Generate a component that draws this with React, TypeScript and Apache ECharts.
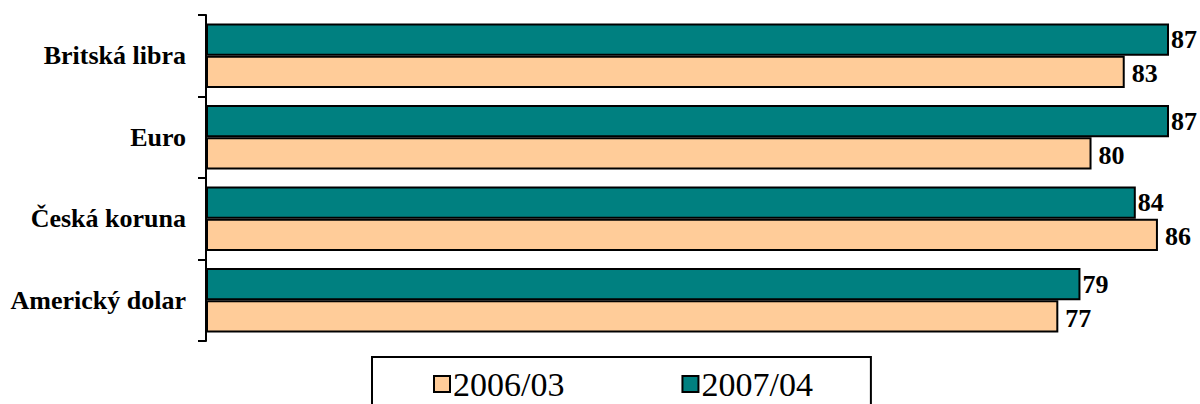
import React, { useEffect, useRef } from "react";
import * as echarts from "echarts";

const categories = ["Britská libra", "Euro", "Česká koruna", "Americký dolar"];
const values2006 = [83, 80, 86, 77];
const values2007 = [87, 87, 84, 79];
const seriesNames = ["2006/03", "2007/04"];

export default function App() {
  const ref = useRef<HTMLDivElement>(null);
  useEffect(() => {
    document.body.style.margin = "0";
    const chart = echarts.init(ref.current!, null, { renderer: "svg" });
    const font = "Times New Roman, Liberation Serif, serif";
    const labelStyle = {
      show: true,
      position: "right" as const,
      distance: 3,
      fontFamily: font,
      fontWeight: "bold" as const,
      fontSize: 26,
      color: "#000",
    };
    chart.setOption({
      animation: false,
      grid: { left: 206, top: 15, height: 326, right: 0 },
      xAxis: {
        type: "value",
        min: 0,
        max: 89.8,
        show: false,
      },
      yAxis: {
        type: "category",
        inverse: true,
        data: categories,
        axisLine: { show: true, lineStyle: { color: "#000", width: 2 } },
        axisTick: { show: true, length: 8, lineStyle: { color: "#000", width: 2 } },
        axisLabel: {
          margin: 20,
          fontFamily: font,
          fontWeight: "bold",
          fontSize: 26,
          color: "#000",
        },
        splitLine: { show: false },
      },
      legend: {
        data: seriesNames,
        left: 372,
        top: 357,
        itemWidth: 16,
        itemHeight: 16,
        itemGap: 117,
        padding: [10, 58, 10, 61],
        borderColor: "#000",
        borderWidth: 2,
        icon: "rect",
        textStyle: { fontFamily: font, fontSize: 34, color: "#000", padding: [0, 0, 0, -2] },
      },
      series: [
        {
          name: seriesNames[1],
          type: "bar",
          data: values2007,
          barGap: "0%",
          barCategoryGap: "21%",
          itemStyle: { color: "#008080", borderColor: "#000", borderWidth: 2 },
          label: { ...labelStyle, distance: 2 },
        },
        {
          name: seriesNames[0],
          type: "bar",
          data: values2006,
          barGap: "0%",
          barCategoryGap: "21%",
          itemStyle: { color: "#FFCC99", borderColor: "#000", borderWidth: 2 },
          label: { ...labelStyle, distance: 7, offset: [0, 2] },
        },
      ],
    });
    return () => chart.dispose();
  }, []);
  return <div ref={ref} style={{ width: 1200, height: 404 }} />;
}
